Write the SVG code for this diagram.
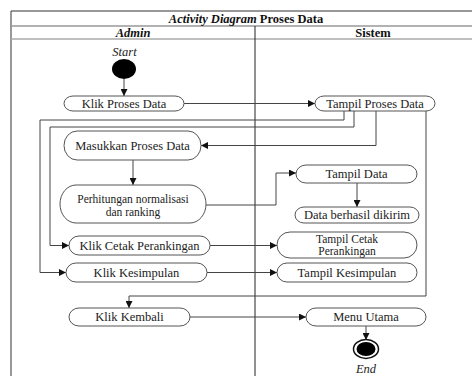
<svg xmlns="http://www.w3.org/2000/svg" width="472" height="376" viewBox="0 0 472 376">
<style>
.n{fill:#fff;stroke:#555;stroke-width:1}
.t{font-family:"Liberation Serif","Times New Roman",serif;font-size:12.5px;fill:#222;text-anchor:middle}
.t2{font-family:"Liberation Serif","Times New Roman",serif;font-size:11.5px;fill:#222;text-anchor:middle}
.h{font-family:"Liberation Serif","Times New Roman",serif;font-size:12.5px;font-weight:bold;fill:#111;text-anchor:middle}
.c{fill:none;stroke:#444;stroke-width:1}
</style>
<defs>
<marker id="a" viewBox="0 0 8 8" refX="8" refY="4" markerWidth="7" markerHeight="7" markerUnits="userSpaceOnUse" orient="auto">
<path d="M0,0 L8,4 L0,8 z" fill="#111"/>
</marker>
</defs>
<rect width="472" height="376" fill="#fff"/>
<g id="frame">
<line x1="11" y1="11" x2="472" y2="11" stroke="#333" stroke-width="1"/>
<line x1="11" y1="11" x2="11" y2="376" stroke="#333" stroke-width="1"/>
<line x1="11" y1="26" x2="472" y2="26" stroke="#999" stroke-width="1.5"/>
<line x1="11" y1="39" x2="472" y2="39" stroke="#aaa" stroke-width="1.5"/>
<line x1="255" y1="26" x2="255" y2="376" stroke="#222" stroke-width="1"/>
<text class="h" x="246" y="22.5"><tspan font-style="italic">Activity Diagram</tspan> Proses Data</text>
<text class="h" x="133" y="36.5" font-style="italic">Admin</text>
<text class="h" x="373" y="36.5">Sistem</text>
</g>
<g id="connectors">
<path class="c" d="M124,79 V96" marker-end="url(#a)"/>
<path class="c" d="M184,103.5 H315" marker-end="url(#a)"/>
<path class="c" d="M344,111 V120 H40 V272.5 H66" marker-end="url(#a)"/>
<path class="c" d="M354,111 V127 H50 V245.5 H69" marker-end="url(#a)"/>
<path class="c" d="M376,111 V145.5 H201" marker-end="url(#a)"/>
<path class="c" d="M426,111 V296 H129 V308" marker-end="url(#a)"/>
<path class="c" d="M133,160 V185" marker-end="url(#a)"/>
<path class="c" d="M206,205 H276 V173 H296" marker-end="url(#a)"/>
<path class="c" d="M357,183 V207" marker-end="url(#a)"/>
<path class="c" d="M210,245.5 H277" marker-end="url(#a)"/>
<path class="c" d="M207,272.5 H277" marker-end="url(#a)"/>
<path class="c" d="M190,317 H306" marker-end="url(#a)"/>
<path class="c" d="M366,326 V340" marker-end="url(#a)"/>
</g>
<g id="start">
<text class="t" x="124.5" y="55.5" font-style="italic" fill="#444">Start</text>
<ellipse cx="124" cy="69" rx="12" ry="10" fill="#000"/>
</g>
<g id="klik-proses-data"><rect class="n" x="64" y="96" width="120" height="15" rx="9" ry="7.5"/><text class="t" x="124" y="107.5">Klik Proses Data</text></g>
<g id="tampil-proses-data"><rect class="n" x="315" y="96" width="120" height="15" rx="9" ry="7.5"/><text class="t" x="375" y="107.5">Tampil Proses Data</text></g>
<g id="masukkan-proses-data"><rect class="n" x="64" y="131" width="137" height="29" rx="13" ry="14.5"/><text class="t" x="132.5" y="149.5">Masukkan Proses Data</text></g>
<g id="perhitungan"><rect class="n" x="60" y="185" width="146" height="38" rx="16" ry="19"/><text class="t2" x="133" y="203">Perhitungan normalisasi</text><text class="t2" x="133" y="216">dan ranking</text></g>
<g id="tampil-data"><rect class="n" x="296" y="165" width="121" height="18" rx="10" ry="9"/><text class="t" x="356.5" y="178">Tampil Data</text></g>
<g id="data-berhasil"><rect class="n" x="295" y="207" width="124" height="16" rx="9" ry="8"/><text class="t" x="357" y="219">Data berhasil dikirim</text></g>
<g id="klik-cetak"><rect class="n" x="69" y="236" width="141" height="19" rx="10" ry="9.5"/><text class="t" x="139.5" y="249.5">Klik Cetak Perankingan</text></g>
<g id="tampil-cetak"><rect class="n" x="277" y="232" width="140" height="26" rx="13" ry="13"/><text class="t2" x="347" y="242.5">Tampil Cetak</text><text class="t2" x="347" y="255">Perankingan</text></g>
<g id="klik-kesimpulan"><rect class="n" x="66" y="263" width="141" height="19" rx="10" ry="9.5"/><text class="t" x="136.5" y="276.5">Klik Kesimpulan</text></g>
<g id="tampil-kesimpulan"><rect class="n" x="277" y="263" width="140" height="19" rx="10" ry="9.5"/><text class="t" x="347" y="276.5">Tampil Kesimpulan</text></g>
<g id="klik-kembali"><rect class="n" x="69" y="308" width="121" height="18" rx="10" ry="9"/><text class="t" x="129.5" y="321">Klik Kembali</text></g>
<g id="menu-utama"><rect class="n" x="306" y="308" width="120" height="18" rx="10" ry="9"/><text class="t" x="366" y="321">Menu Utama</text></g>
<g id="end">
<ellipse cx="366" cy="349" rx="12.5" ry="9.5" fill="#fff" stroke="#111" stroke-width="1.5"/>
<ellipse cx="366" cy="349" rx="9.5" ry="7" fill="#000"/>
<text class="t" x="366" y="373" font-style="italic" fill="#444">End</text>
</g>
</svg>
